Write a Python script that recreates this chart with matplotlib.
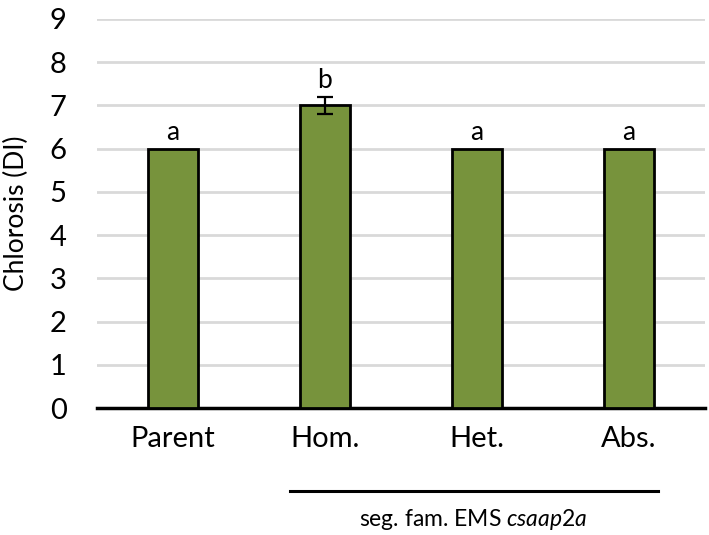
import matplotlib.pyplot as plt
import numpy as np

plt.rcParams['font.family'] = ['Lato', 'DejaVu Sans']
plt.rcParams['mathtext.fontset'] = 'custom'
plt.rcParams['mathtext.it'] = 'Lato:italic'
plt.rcParams['mathtext.rm'] = 'Lato'

cats = ['Parent', 'Hom.', 'Het.', 'Abs.']
vals = [6, 7, 6, 6]
errs = [0, 0.2, 0, 0]
letters = ['a', 'b', 'a', 'a']

fig = plt.figure(figsize=(7.09, 5.35), dpi=100)
ax = fig.add_axes([0.137, 0.237, 0.857, 0.728])

x = np.arange(len(cats))
ax.bar(x, vals, 0.33, color='#77933c', edgecolor='black', linewidth=2, zorder=3)
ax.errorbar(x[1], vals[1], yerr=errs[1], fmt='none', ecolor='black',
            elinewidth=1.6, capsize=5.5, capthick=1.6, zorder=4)
for i in range(len(cats)):
    top = vals[i] + errs[i]
    ax.text(x[i], top + 0.08, letters[i], ha='center', va='bottom', fontsize=19)

ax.set_xlim(-0.5, 3.5)
ax.set_ylim(0, 9)
ax.set_yticks(range(10))
ax.set_xticks(x)
ax.set_xticklabels(cats, fontsize=21)
ax.tick_params(axis='y', labelsize=21, length=0, pad=22)
ax.tick_params(axis='x', length=0, pad=13)
ax.yaxis.grid(True, color='#d9d9d9', linewidth=2)
ax.set_axisbelow(True)
for s in ['top', 'right', 'left']:
    ax.spines[s].set_visible(False)
ax.spines['bottom'].set_linewidth(2.5)
ax.set_ylabel('Chlorosis (DI)', fontsize=19, labelpad=15)

# group underline
fig.add_artist(plt.Line2D([290 / 709, 658 / 709], [1 - 491 / 535, 1 - 491 / 535],
                          color='black', linewidth=2.2))
fig.text(473 / 709, 1 - 519 / 535, 'seg. fam. EMS $\\it{csaap2a}$', ha='center',
         va='center', fontsize=16.5)

fig.savefig('out.png', dpi=100)
